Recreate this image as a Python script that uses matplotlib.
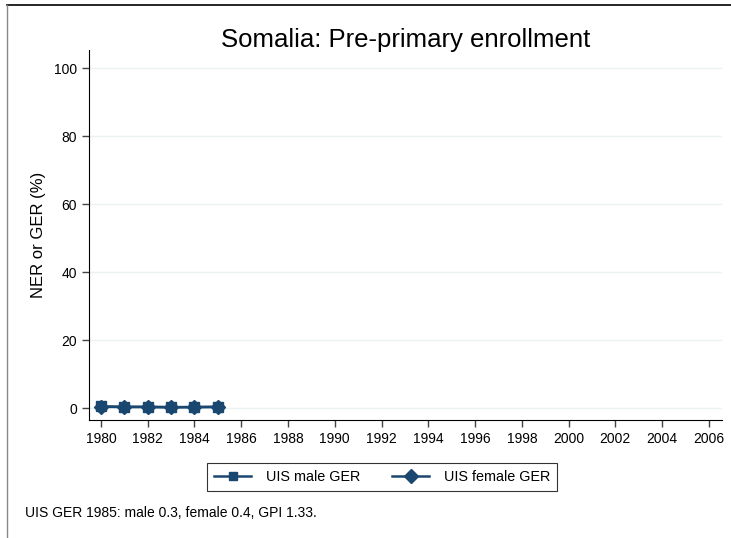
import matplotlib
matplotlib.use("Agg")
import matplotlib.pyplot as plt
from matplotlib.lines import Line2D

plt.rcParams['font.family'] = ['Liberation Sans', 'DejaVu Sans']

years = [1980, 1981, 1982, 1983, 1984, 1985]
male_ger = [0.5, 0.4, 0.4, 0.3, 0.3, 0.3]
female_ger = [0.4, 0.3, 0.3, 0.2, 0.3, 0.4]
x_ticks = list(range(1980, 2007, 2))
y_ticks = [0, 20, 40, 60, 80, 100]
navy = "#1a476f"

fig = plt.figure(figsize=(7.31, 5.38), dpi=100)
ax = fig.add_axes([89 / 731, 1 - 420 / 538, 633 / 731, 370 / 538])

ax.plot(years, male_ger, color=navy, lw=1.8, marker="s", ms=7, label="UIS male GER")
ax.plot(years, female_ger, color=navy, lw=1.8, marker="D", ms=7, label="UIS female GER")

ax.set_xlim(1979.49, 2006.56)
ax.set_ylim(-3.5, 105.3)
ax.set_xticks(x_ticks)
ax.set_yticks(y_ticks)
ax.tick_params(labelsize=10, color="#444444", length=5, width=1)
ax.grid(axis="y", color="#eaf2f3", lw=1)
ax.set_axisbelow(True)
for s in ["top", "right"]:
    ax.spines[s].set_visible(False)
ax.set_ylabel("NER or GER (%)", fontsize=12, labelpad=6)

fig.text(0.555, 1 - 40 / 538, "Somalia: Pre-primary enrollment", ha="center", va="center", fontsize=18.5)

handles = [Line2D([], [], color=navy, lw=1.8, marker="s", ms=6),
           Line2D([], [], color=navy, lw=1.8, marker="D", ms=7)]
leg = fig.legend(handles, ["UIS male GER", "UIS female GER"], loc="center",
                 bbox_to_anchor=(382 / 731, 1 - 477 / 538), ncol=2, fontsize=10.4,
                 frameon=True, fancybox=False, edgecolor="black", handlelength=2.6,
                 columnspacing=2.2, borderpad=0.5, handletextpad=1.0)
leg.get_frame().set_linewidth(0.8)

fig.text(25 / 731, 1 - 513 / 538, "UIS GER 1985: male 0.3, female 0.4, GPI 1.33.", fontsize=10, va="center")

# outer frame lines
fig.add_artist(Line2D([7 / 731, 1], [1 - 5 / 538, 1 - 5 / 538], color="black", lw=1.2))
fig.add_artist(Line2D([7 / 731, 7 / 731], [0, 1 - 5 / 538], color="#888888", lw=1))

fig.savefig("out.png", dpi=100)
